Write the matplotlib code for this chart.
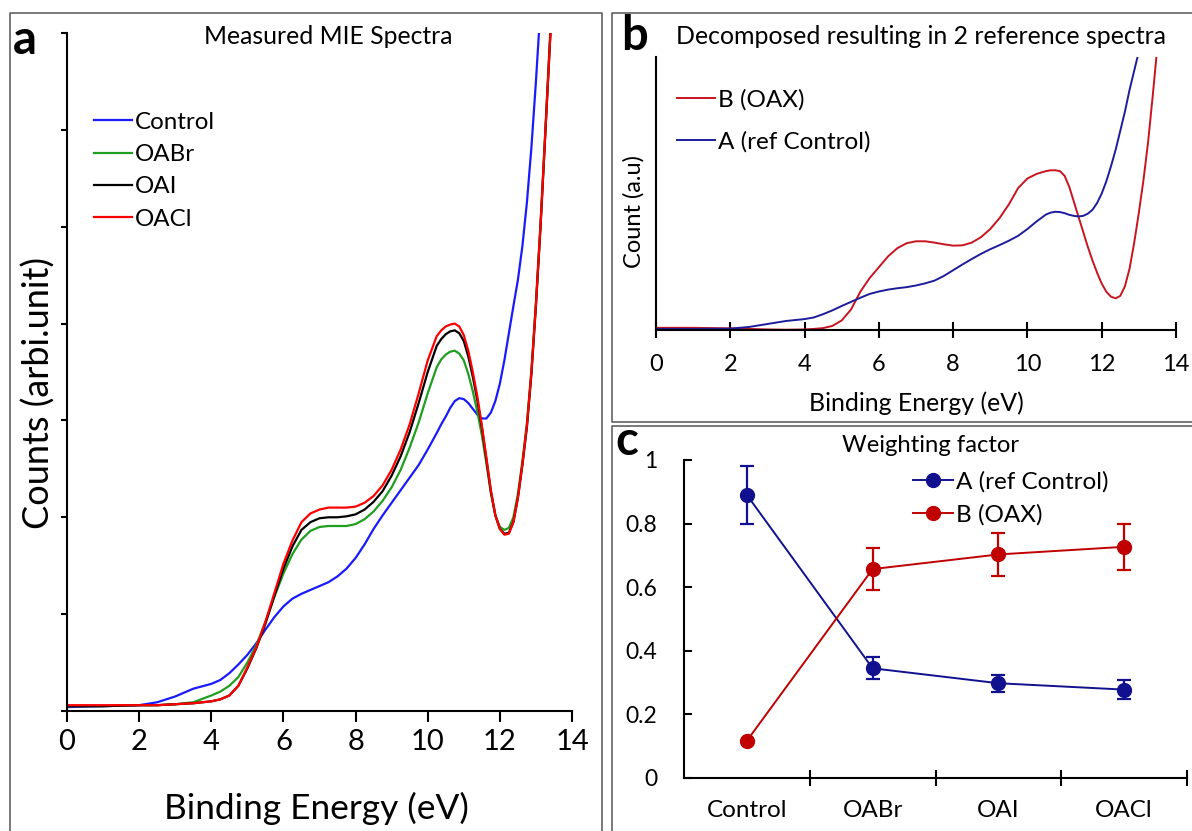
import matplotlib
matplotlib.use("Agg")
import matplotlib.pyplot as plt
from matplotlib.lines import Line2D

plt.rcParams['font.family'] = ['Lato', 'DejaVu Sans']

# MIE spectra, binding energy in eV
energy = [0, 1, 2, 2.5, 3, 3.5, 4, 4.25, 4.5, 4.75, 5, 5.25, 5.5, 5.75, 6, 6.25, 6.5,
          6.75, 7, 7.25, 7.5, 7.75, 8, 8.25, 8.5, 8.75, 9, 9.25, 9.5, 9.75, 10,
          10.25, 10.375, 10.5, 10.625, 10.75, 10.875, 11, 11.125, 11.25, 11.375, 11.5,
          11.625, 11.75, 11.875, 12, 12.125, 12.25, 12.375, 12.5, 12.625, 12.75, 12.875,
          13, 13.125, 13.25, 13.375, 13.5]
control = [0.04, 0.05, 0.06, 0.09, 0.15, 0.23, 0.28, 0.32, 0.39, 0.48, 0.58, 0.70, 0.84,
           0.97, 1.08, 1.16, 1.21, 1.25, 1.29, 1.33, 1.39, 1.47, 1.58, 1.72, 1.88, 2.02,
           2.15, 2.28, 2.41, 2.54, 2.70,
           2.87, 2.96, 3.04, 3.13, 3.20, 3.23, 3.22, 3.18, 3.12, 3.06, 3.02,
           3.02, 3.08, 3.20, 3.38, 3.62, 3.90, 4.18, 4.45, 4.80, 5.25, 5.82,
           6.50, 7.25, 8.10, 8.90, 9.60]
oabr = [0.05, 0.05, 0.06, 0.06, 0.07, 0.09, 0.16, 0.20, 0.26, 0.35, 0.50, 0.68, 0.92,
        1.18, 1.42, 1.62, 1.77, 1.86, 1.90, 1.91, 1.91, 1.91, 1.93, 1.98, 2.06, 2.17,
        2.31, 2.49, 2.72, 2.98, 3.28,
        3.55, 3.63, 3.68, 3.71, 3.72, 3.69, 3.62, 3.48, 3.30, 3.09, 2.85,
        2.56, 2.25, 2.02, 1.90, 1.87, 1.89, 2.00, 2.24, 2.58, 2.97, 3.52,
        4.22, 5.02, 5.92, 6.85, 7.75]
oai = [0.05, 0.05, 0.06, 0.06, 0.07, 0.08, 0.10, 0.12, 0.16, 0.26, 0.44, 0.65, 0.90,
       1.19, 1.47, 1.70, 1.87, 1.95, 1.99, 2.00, 2.00, 2.01, 2.03, 2.08, 2.16, 2.27,
       2.43, 2.63, 2.88, 3.18, 3.50,
       3.77, 3.84, 3.89, 3.92, 3.93, 3.90, 3.82, 3.66, 3.45, 3.21, 2.93,
       2.60, 2.27, 2.02, 1.88, 1.83, 1.84, 1.95, 2.20, 2.54, 2.93, 3.48,
       4.18, 4.98, 5.88, 6.80, 7.70]
oacl = [0.06, 0.06, 0.06, 0.06, 0.07, 0.08, 0.10, 0.12, 0.16, 0.26, 0.45, 0.66, 0.92,
        1.22, 1.52, 1.76, 1.95, 2.04, 2.08, 2.10, 2.10, 2.10, 2.11, 2.15, 2.22, 2.33,
        2.49, 2.70, 2.96, 3.28, 3.62,
        3.87, 3.93, 3.97, 3.99, 4.00, 3.97, 3.88, 3.72, 3.50, 3.25, 2.95,
        2.62, 2.28, 2.02, 1.88, 1.82, 1.83, 1.95, 2.20, 2.55, 2.95, 3.50,
        4.20, 5.00, 5.90, 6.80, 7.70]

# decomposed reference spectra
ref_energy = [0, 1, 2, 2.5, 3, 3.5, 4, 4.25, 4.5, 4.75, 5, 5.25, 5.5, 5.75, 6, 6.25,
              6.5, 6.75, 7, 7.25, 7.5, 7.75, 8, 8.25, 8.5, 8.75, 9, 9.25, 9.5, 9.75,
              10, 10.25, 10.5, 10.625, 10.75, 10.875, 11, 11.125, 11.25, 11.375, 11.5,
              11.625, 11.75, 11.875, 12, 12.125, 12.25, 12.375, 12.5, 12.625, 12.75,
              12.875, 13, 13.125, 13.25, 13.375, 13.5]
ref_b = [0.008, 0.008, 0.006, 0.004, 0.002, 0.001, 0.002, 0.004, 0.007, 0.015, 0.035,
         0.075, 0.14, 0.19, 0.23, 0.27, 0.30, 0.318, 0.325, 0.325, 0.32, 0.314, 0.309,
         0.310, 0.320, 0.34, 0.37, 0.41, 0.46, 0.52,
         0.555, 0.572, 0.582, 0.585, 0.585, 0.582, 0.565, 0.525, 0.47, 0.415, 0.36,
         0.305, 0.255, 0.21, 0.17, 0.14, 0.122, 0.116, 0.125, 0.16, 0.225,
         0.32, 0.43, 0.55, 0.69, 0.86, 1.04]
ref_a = [0.004, 0.004, 0.005, 0.011, 0.022, 0.033, 0.04, 0.046, 0.058, 0.072, 0.088,
         0.103, 0.118, 0.132, 0.141, 0.148, 0.153, 0.157, 0.163, 0.171, 0.181, 0.198,
         0.219, 0.24, 0.26, 0.279, 0.296, 0.311, 0.327, 0.345,
         0.37, 0.398, 0.423, 0.43, 0.433, 0.432, 0.428, 0.422, 0.418, 0.416, 0.418,
         0.426, 0.44, 0.465, 0.50, 0.545, 0.60, 0.66, 0.73, 0.80, 0.88,
         0.95, 1.02, 1.10, 1.20, 1.30, 1.40]

# weighting factors
samples = ['Control', 'OABr', 'OAI', 'OACl']
weight_a = [0.89, 0.345, 0.298, 0.278]
weight_a_err = [0.09, 0.035, 0.027, 0.03]
weight_b = [0.117, 0.657, 0.703, 0.727]
weight_b_err = [0.0, 0.065, 0.068, 0.073]

W, H = 1192, 831
fig = plt.figure(figsize=(W / 100, H / 100), dpi=100)


def fx(x):
    return x / W


def fy(y):
    return 1 - y / H


def box(x0, y0, w, h):
    return [fx(x0), fy(y0 + h), w / W, h / H]


# panel frames
frame_kw = dict(color='#555555', lw=1.1, transform=fig.transFigure)
for xs, ys in [([9.5, 9.5, 602, 602], [840, 12.5, 12.5, 840]),
               ([1200, 612, 612, 1200], [12.5, 12.5, 421.5, 421.5]),
               ([1200, 612, 612], [425.5, 425.5, 840])]:
    fig.add_artist(Line2D([fx(v) for v in xs], [fy(v) for v in ys], **frame_kw))

leg_kw = dict(loc='upper left', frameon=False, handletextpad=0.12, borderpad=0,
              borderaxespad=0)

# ---- a: measured spectra
ax1 = fig.add_axes(box(67, 33, 505, 678))
ax1.plot(energy, control, color='#1a1aff', lw=1.6, label='Control')
ax1.plot(energy, oabr, color='#1f9e1f', lw=1.6, label='OABr')
ax1.plot(energy, oai, color='black', lw=1.6, label='OAI')
ax1.plot(energy, oacl, color='#ff0000', lw=1.6, label='OACl')
ax1.set_xlim(0, 14)
ax1.set_ylim(0, 7)
ax1.set_xticks(range(0, 15, 2))
ax1.set_yticks(range(0, 8))
ax1.set_yticklabels([])
for s in ['top', 'right']:
    ax1.spines[s].set_visible(False)
for s in ['left', 'bottom']:
    ax1.spines[s].set_linewidth(1.5)
ax1.tick_params(axis='x', length=8, width=1.5, labelsize=21, pad=5)
ax1.tick_params(axis='y', length=4.5, width=1.5)
ax1.legend(bbox_to_anchor=(0.053, 0.884), fontsize=17.4, handlelength=1.57,
           labelspacing=0.47, **leg_kw)
fig.text(fx(316), fy(808), 'Binding Energy (eV)', fontsize=25.4, ha='center', va='center')
fig.text(fx(39), fy(393), 'Counts (arbi.unit)', fontsize=26, ha='center', va='center',
         rotation=90)
fig.text(fx(328), fy(36), 'Measured MIE Spectra', fontsize=17.8, ha='center', va='center')
fig.text(fx(25), fy(40), 'a', fontsize=34, fontweight='bold', ha='center', va='center')

# ---- b: decomposed reference spectra
ax2 = fig.add_axes(box(656, 57, 520, 273))
ax2.plot(ref_energy, ref_b, color='#c8141e', lw=1.4, label='B (OAX)')
ax2.plot(ref_energy, ref_a, color='#1c1c9c', lw=1.4, label='A (ref Control)')
ax2.set_xlim(0, 14)
ax2.set_ylim(0, 1)
ax2.set_xticks(range(0, 15, 2))
ax2.set_yticks([])
for s in ['top', 'right']:
    ax2.spines[s].set_visible(False)
for s in ['left', 'bottom']:
    ax2.spines[s].set_linewidth(1.5)
ax2.tick_params(axis='x', direction='inout', length=11, width=1.5, labelsize=17, pad=12)
ax2.legend(bbox_to_anchor=(0.04, 0.882), fontsize=17.5, handlelength=1.56,
           labelspacing=0.83, **leg_kw)
fig.text(fx(916), fy(403), 'Binding Energy (eV)', fontsize=17.9, ha='center', va='center')
fig.text(fx(634), fy(212), 'Count (a.u)', fontsize=17, ha='center', va='center', rotation=90)
fig.text(fx(921.5), fy(36), 'Decomposed resulting in 2 reference spectra', fontsize=17.9,
         ha='center', va='center')
fig.text(fx(634), fy(36), 'b', fontsize=34, fontweight='bold', ha='center', va='center')

# ---- c: weighting factors
ax3 = fig.add_axes(box(684, 460, 503, 318))
pos = range(len(samples))
ax3.errorbar(pos, weight_a, yerr=weight_a_err, color='#11118f', lw=1.4, marker='o',
             markersize=10, capsize=5, elinewidth=1.6, capthick=1.6)
ax3.errorbar(pos, weight_b, yerr=weight_b_err, color='#c00000', lw=1.4, marker='o',
             markersize=10, capsize=5, elinewidth=1.6, capthick=1.6)
ax3.set_xlim(-0.5, 3.5)
ax3.set_ylim(0, 1)
ax3.set_yticks([0, 0.2, 0.4, 0.6, 0.8, 1])
ax3.set_yticklabels(['0', '0.2', '0.4', '0.6', '0.8', '1'])
ax3.set_xticks(list(pos))
ax3.set_xticklabels(samples)
ax3.set_xticks([0.5, 1.5, 2.5, 3.5], minor=True)
for s in ['top', 'right']:
    ax3.spines[s].set_visible(False)
for s in ['left', 'bottom']:
    ax3.spines[s].set_linewidth(1.5)
ax3.tick_params(axis='x', which='major', length=0, labelsize=17.5, pad=16)
ax3.tick_params(axis='x', which='minor', direction='inout', length=12, width=1.5)
ax3.tick_params(axis='y', direction='in', length=6, width=1.5, labelsize=16.5, pad=19)
ax3.legend(handles=[Line2D([], [], color='#11118f', lw=1.4, marker='o', markersize=10),
                    Line2D([], [], color='#c00000', lw=1.4, marker='o', markersize=10)],
           labels=['A (ref Control)', 'B (OAX)'], bbox_to_anchor=(0.456, 0.966),
           fontsize=17.5, handlelength=1.65, labelspacing=0.5, **leg_kw)
fig.text(fx(930), fy(445), 'Weighting factor', fontsize=17.2, ha='center', va='center')
fig.text(fx(627), fy(441), 'c', fontsize=34, fontweight='bold', ha='center', va='center')

fig.savefig('out.png', dpi=100)
